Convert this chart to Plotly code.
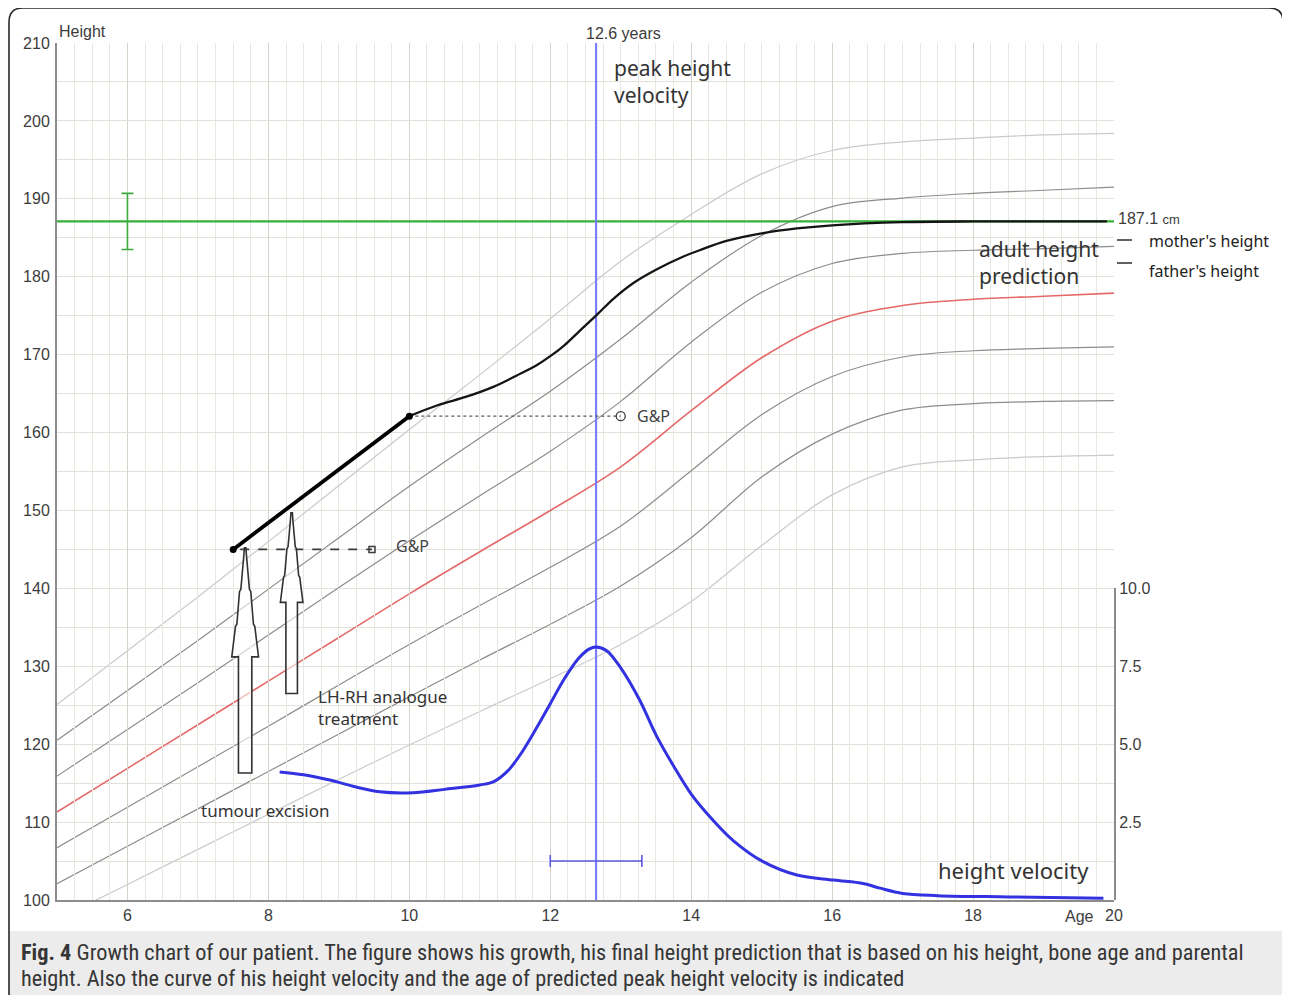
import plotly.graph_objects as go

# ---------------- data ----------------
ages = [5, 6, 7, 8, 9, 10, 11, 12, 13, 14, 15, 16, 17, 18, 19, 20]
sd_plus3 = [125.1, 132.0, 138.9, 146.0, 153.2, 160.4, 167.4, 174.6, 182.0, 188.0, 193.2, 196.2, 197.3, 197.8, 198.2, 198.4]
sd_plus2 = [120.5, 126.9, 133.3, 139.9, 146.5, 153.1, 159.3, 165.3, 172.0, 179.3, 185.3, 189.0, 190.1, 190.7, 191.1, 191.5]
sd_plus1 = [115.9, 121.9, 127.9, 134.0, 140.1, 146.1, 151.9, 157.6, 164.0, 171.6, 178.0, 181.7, 183.0, 183.4, 183.6, 183.9]
sd_zero = [111.3, 116.9, 122.5, 128.1, 133.7, 139.3, 144.7, 150.0, 155.6, 162.8, 169.6, 174.3, 176.3, 177.1, 177.5, 177.9]
sd_minus1 = [106.7, 111.9, 117.1, 122.3, 127.6, 132.8, 137.8, 142.7, 148.0, 155.1, 162.3, 167.2, 169.7, 170.5, 170.8, 171.0]
sd_minus2 = [102.1, 106.9, 111.7, 116.5, 121.3, 126.1, 130.8, 135.4, 140.3, 146.5, 154.3, 159.8, 162.9, 163.7, 164.0, 164.1]
sd_minus3 = [97.5, 102.0, 106.5, 111.0, 115.5, 119.9, 124.2, 128.4, 132.8, 138.3, 145.5, 152.0, 155.6, 156.5, 156.9, 157.1]

meas_age = [7.5, 10.0]
meas_height = [145.0, 162.1]
gp_age = [9.47, 13.0]          # Greulich & Pyle bone age
gp_height = [145.0, 162.1]

pred_age = [10.0, 10.4, 10.81, 11.2, 11.52, 11.8, 12.0, 12.2, 12.4, 12.66, 12.9, 13.18, 13.5, 13.89, 14.12, 14.5,
            15.02, 15.5, 16.0, 17.0, 18.0, 19.9]
pred_height = [162.1, 163.5, 164.6, 165.9, 167.3, 168.6, 169.8, 171.2, 172.9, 175.1, 177.2, 179.2, 180.9, 182.6, 183.4, 184.6,
               185.6, 186.2, 186.6, 187.0, 187.1, 187.1]

final_prediction = 187.1
pred_range = [183.5, 190.7]
pred_bar_age = 6.0

vel_age = [8.16, 8.5, 8.87, 9.2, 9.58, 10.05, 10.5, 11.0, 11.2, 11.4, 11.6, 11.8, 12.0, 12.2, 12.4, 12.55, 12.65,
           12.8, 13.0, 13.27, 13.5, 13.75, 14.0, 14.31, 14.6, 15.02, 15.5, 16.02, 16.44, 16.68, 17.0, 17.5, 18.5, 19.85]
vel_value = [4.11, 4.02, 3.85, 3.65, 3.47, 3.44, 3.55, 3.69, 3.8, 4.15, 4.75, 5.5, 6.3, 7.1, 7.75, 8.05, 8.12,
             8.0, 7.45, 6.41, 5.3, 4.3, 3.4, 2.56, 1.9, 1.23, 0.80, 0.64, 0.53, 0.38, 0.21, 0.14, 0.10, 0.06]

phv_age = 12.65
phv_range = [12.0, 13.3]
phv_bar_value = 1.25

# arrows: age, bottom of shaft, base of head, tip
arrow_age = [7.67, 8.33]
arrow_bottom = [116.3, 126.5]
arrow_headbase = [131.2, 138.2]
arrow_tip = [145.2, 149.7]
arrow_shaft_half = [0.095, 0.082]
arrow_head_half = [0.19, 0.16]

x_ticks = [6, 8, 10, 12, 14, 16, 18, 20]
y_ticks = [100, 110, 120, 130, 140, 150, 160, 170, 180, 190, 200, 210]
v_ticks = [2.5, 5.0, 7.5, 10.0]

caption_lines = [
    "<b>Fig. 4</b> Growth chart of our patient. The figure shows his growth, his final height prediction that is based on his height, bone age and parental",
    "height. Also the curve of his height velocity and the age of predicted peak height velocity is indicated",
]

# ---------------- layout helpers (page pixel -> paper) ----------------
# the page has an 8px body margin, so the figure is offset by 8px
OFF = 8
W, H = 1290, 995
PL, PR, PT, PB = 57, 1114, 43, 900          # plot area in page pixels
L, T = PL - OFF, PT - OFF
R, B = W + OFF - PR, H + OFF - PB
PW, PH = PR - PL, PB - PT


def px(xp):
    return (xp - PL) / PW


def py(yp):
    return (PB - yp) / PH


fig = go.Figure()

light = "rgba(202,202,202,1)"
mid = "rgba(140,140,140,1)"
curves = [
    (sd_plus3, light, 1.2), (sd_plus2, mid, 1.2), (sd_plus1, mid, 1.2),
    (sd_zero, "rgb(230,105,105)", 1.6),
    (sd_minus1, mid, 1.2), (sd_minus2, mid, 1.2), (sd_minus3, light, 1.2),
]
for vals, col, w in curves:
    fig.add_trace(go.Scatter(x=ages, y=vals, mode="lines", line=dict(color=col, width=w, shape="spline", smoothing=1.0),
                             hoverinfo="skip", showlegend=False))

# final height prediction (green)
fig.add_trace(go.Scatter(x=[ages[0], ages[-1]], y=[final_prediction, final_prediction], mode="lines",
                         line=dict(color="rgb(55,175,55)", width=2.4), showlegend=False))
fig.add_trace(go.Scatter(x=[pred_bar_age], y=[final_prediction], mode="markers", marker=dict(size=1, color="rgba(0,0,0,0)"),
                         error_y=dict(type="data", symmetric=False,
                                      array=[pred_range[1] - final_prediction],
                                      arrayminus=[final_prediction - pred_range[0]],
                                      color="rgb(60,170,60)", thickness=1.6, width=6),
                         showlegend=False))

# peak height velocity vertical line
fig.add_trace(go.Scatter(x=[phv_age, phv_age], y=[y_ticks[0], y_ticks[-1]], mode="lines",
                         line=dict(color="rgb(125,125,255)", width=2.2), showlegend=False))

# G&P reference lines
fig.add_trace(go.Scatter(x=[meas_age[0] + 0.1, gp_age[0]], y=[meas_height[0], gp_height[0]], mode="lines",
                         line=dict(color="rgb(60,60,60)", width=1.6, dash="dash"), showlegend=False))
fig.add_trace(go.Scatter(x=[meas_age[1], gp_age[1]], y=[meas_height[1], gp_height[1]], mode="lines",
                         line=dict(color="rgb(90,90,90)", width=1.2, dash="dot"), showlegend=False))
fig.add_trace(go.Scatter(x=[gp_age[0]], y=[gp_height[0]], mode="markers",
                         marker=dict(symbol="square-open", size=6, color="rgb(60,60,60)", line=dict(width=1.5)), showlegend=False))
fig.add_trace(go.Scatter(x=[gp_age[1]], y=[gp_height[1]], mode="markers",
                         marker=dict(symbol="circle-open", size=9, color="rgb(60,60,60)", line=dict(width=1.3)), showlegend=False))

# predicted growth curve
fig.add_trace(go.Scatter(x=pred_age, y=pred_height, mode="lines",
                         line=dict(color="rgb(20,20,20)", width=2.3, shape="spline", smoothing=1.0), showlegend=False))
# measured growth
fig.add_trace(go.Scatter(x=meas_age, y=meas_height, mode="lines+markers",
                         line=dict(color="black", width=3.8), marker=dict(size=7, color="black"), showlegend=False))

# height velocity on secondary axis
fig.add_trace(go.Scatter(x=vel_age, y=vel_value, mode="lines", yaxis="y2",
                         line=dict(color="rgb(50,50,225)", width=3, shape="spline", smoothing=1.0), showlegend=False))
fig.add_trace(go.Scatter(x=[phv_age], y=[phv_bar_value], mode="markers", yaxis="y2",
                         marker=dict(size=1, color="rgba(0,0,0,0)"),
                         error_x=dict(type="data", symmetric=False, array=[phv_range[1] - phv_age],
                                      arrayminus=[phv_age - phv_range[0]], color="rgb(90,90,220)",
                                      thickness=1.6, width=6),
                         showlegend=False))

# hollow arrows
shapes = []
for a, b0, hb, tp, sh, hh in zip(arrow_age, arrow_bottom, arrow_headbase, arrow_tip, arrow_shaft_half, arrow_head_half):
    span = tp - hb
    pts = [
        (a - sh, b0), (a + sh, b0), (a + sh, hb), (a + hh, hb),
        (a + hh * 0.72, hb + span * 0.28), (a + hh * 0.62, hb + span * 0.3),
        (a + hh * 0.42, hb + span * 0.6), (a + hh * 0.32, hb + span * 0.62),
        (a + hh * 0.12, hb + span * 0.9), (a + 0.01, tp),
        (a - 0.01, tp), (a - hh * 0.12, hb + span * 0.9),
        (a - hh * 0.32, hb + span * 0.62), (a - hh * 0.42, hb + span * 0.6),
        (a - hh * 0.62, hb + span * 0.3), (a - hh * 0.72, hb + span * 0.28),
        (a - hh, hb), (a - sh, hb),
    ]
    path = "M " + " L ".join(f"{x},{y}" for x, y in pts) + " Z"
    shapes.append(dict(type="path", xref="x", yref="y", path=path,
                       line=dict(color="rgb(50,50,50)", width=1.6), fillcolor="rgba(255,255,255,0.6)", layer="above"))

# caption background and frame
shapes.append(dict(type="rect", xref="paper", yref="paper", x0=px(9), x1=px(1282), y0=py(1010), y1=py(931),
                   fillcolor="rgb(236,236,236)", line=dict(width=0), layer="below"))
r = 14
frame = (f"M {px(9)},{py(1010)} L {px(9)},{py(8 + r)} Q {px(9)},{py(8)} {px(9 + r)},{py(8)} "
         f"L {px(1283 - r)},{py(8)} Q {px(1283)},{py(8)} {px(1283)},{py(8 + r)} L {px(1283)},{py(1010)}")
shapes.append(dict(type="path", xref="paper", yref="paper", path=frame, line=dict(color="rgb(40,40,40)", width=1.6)))
# parental height marks
for yy in [240, 263]:
    shapes.append(dict(type="line", xref="paper", yref="paper", x0=px(1117), x1=px(1132), y0=py(yy), y1=py(yy),
                       line=dict(color="rgb(30,30,30)", width=1.4)))

hand = "Noto Sans, DejaVu Sans, sans-serif"
axis_font = dict(size=16, color="#3c3c3c")
annotations = [
    dict(text="Height", xref="paper", yref="paper", x=px(57), y=py(31), xanchor="left", yanchor="middle",
         showarrow=False, font=axis_font),
    dict(text="Age", xref="paper", yref="paper", x=px(1079), y=py(916), xanchor="center", yanchor="middle",
         showarrow=False, font=axis_font),
    dict(text="12.6 years", xref="x", yref="paper", x=phv_age, xshift=-12, y=py(34), xanchor="left", yanchor="middle",
         showarrow=False, font=axis_font),
    dict(text="peak height<br>velocity", xref="paper", yref="paper", x=px(612), y=py(82), xanchor="left", yanchor="middle",
         showarrow=False, align="left", font=dict(size=21, color="#333", family=hand)),
    dict(text="187.1 <span style='font-size:13px'>cm</span>", xref="paper", yref="paper", x=px(1116), y=py(218),
         xanchor="left", yanchor="middle", showarrow=False, font=axis_font),
    dict(text="adult height<br>prediction", xref="paper", yref="paper", x=px(977), y=py(262), xanchor="left", yanchor="middle",
         showarrow=False, align="left", font=dict(size=21, color="#333", family=hand)),
    dict(text="mother's height", xref="paper", yref="paper", x=px(1147), y=py(241), xanchor="left", yanchor="middle",
         showarrow=False, font=dict(size=16, color="#222", family=hand)),
    dict(text="father's height", xref="paper", yref="paper", x=px(1147), y=py(271), xanchor="left", yanchor="middle",
         showarrow=False, font=dict(size=16, color="#222", family=hand)),
    dict(text="G&P", xref="x", yref="y", x=gp_age[0], xshift=22, y=gp_height[0], yshift=3, xanchor="left", yanchor="middle",
         showarrow=False, font=dict(size=16, color="#444", family=hand)),
    dict(text="G&P", xref="x", yref="y", x=gp_age[1], xshift=14, y=gp_height[1], xanchor="left", yanchor="middle",
         showarrow=False, font=dict(size=16, color="#444", family=hand)),
    dict(text="LH-RH analogue<br>treatment", xref="paper", yref="paper", x=px(316), y=py(707), xanchor="left", yanchor="middle",
         showarrow=False, align="left", font=dict(size=17, color="#333", family=hand)),
    dict(text="tumour excision", xref="paper", yref="paper", x=px(199), y=py(810), xanchor="left", yanchor="middle",
         showarrow=False, font=dict(size=17, color="#333", family=hand)),
    dict(text="height velocity", xref="paper", yref="paper", x=px(936), y=py(870), xanchor="left", yanchor="middle",
         showarrow=False, font=dict(size=22, color="#333", family=hand)),
]
cap_font = dict(size=22.3, color="#363636", family="Liberation Sans Narrow, Roboto Condensed, Arial Narrow, sans-serif")
for line_text, yy in zip(caption_lines, [952, 978]):
    annotations.append(dict(text=line_text, xref="paper", yref="paper", x=px(19), y=py(yy), xanchor="left",
                            yanchor="middle", align="left", showarrow=False, font=cap_font))

fig.update_layout(
    width=W, height=H,
    margin=dict(l=L, r=R, t=T, b=B),
    paper_bgcolor="white", plot_bgcolor="rgba(0,0,0,0)",
    font=dict(family="Liberation Sans, Arial, sans-serif", size=16, color="#3c3c3c"),
    showlegend=False,
    xaxis=dict(range=[ages[0], ages[-1]], tickvals=x_ticks, showline=True, linecolor="rgb(140,140,140)", linewidth=2,
               showgrid=True, gridcolor="rgb(212,212,202)", gridwidth=1, dtick=1, zeroline=False,
               minor=dict(dtick=0.25, showgrid=True, gridcolor="rgb(232,232,226)", gridwidth=1),
               ticks="", tickfont=axis_font),
    yaxis=dict(range=[y_ticks[0], y_ticks[-1]], tickvals=y_ticks, showline=True, linecolor="rgb(140,140,140)", linewidth=2,
               showgrid=True, gridcolor="rgb(226,226,218)", gridwidth=1, zeroline=False,
               minor=dict(dtick=5, showgrid=True, gridcolor="rgb(226,226,218)", gridwidth=1),
               ticks="", tickfont=axis_font, ticklabelstandoff=2),
    yaxis2=dict(domain=[0, 40 / 110], range=[0, 10], anchor="x", side="right", showgrid=False, zeroline=False,
                showline=True, linecolor="rgb(140,140,140)", linewidth=2, tickvals=v_ticks,
                ticktext=[f"{v:.1f}" for v in v_ticks], ticks="", tickfont=axis_font),
    shapes=shapes,
    annotations=annotations,
)

fig.write_html("out.html")
